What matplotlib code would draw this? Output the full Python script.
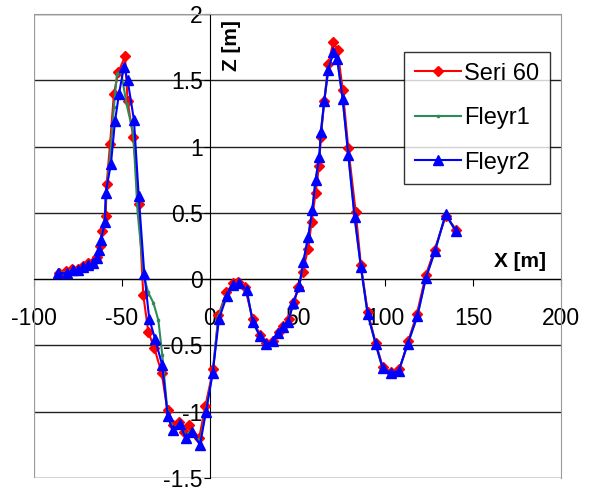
import matplotlib
matplotlib.use("Agg")
import matplotlib.pyplot as plt

plt.rcParams["font.family"] = ["Liberation Sans", "DejaVu Sans"]

# Seri 60 (red)
seri60_x = [-86, -82, -78.5, -75, -72, -69, -66.5, -64, -62.3, -61.5, -59.2, -58.6,
            -56.7, -54.5, -52, -48.2, -46.7, -43.5, -40.4, -37.8, -34.9, -31.5, -27.3,
            -24, -21, -17.5, -14.5, -11.5, -6, -2.5, 2, 5, 9.5, 13.5, 16, 20, 24.5,
            28.5, 32, 36, 39.5, 42, 45, 48, 50.5, 52.9, 56.1, 58, 60.3, 62.2, 63.3,
            65.2, 67.5, 70.4, 72.8, 75.7, 78.9, 83.1, 86.1, 90, 94.5, 98.5, 103, 108,
            113, 118, 123, 128, 134.5, 140.5]
seri60_z = [0.05, 0.06, 0.08, 0.08, 0.10, 0.12, 0.13, 0.17, 0.25, 0.36, 0.48, 0.72,
            1.02, 1.40, 1.56, 1.68, 1.34, 1.07, 0.57, -0.12, -0.40, -0.52, -0.71,
            -0.99, -1.10, -1.08, -1.15, -1.10, -1.20, -0.96, -0.68, -0.27, -0.10, -0.03,
            -0.02, -0.06, -0.30, -0.42, -0.48, -0.47, -0.40, -0.35, -0.30, -0.17, -0.06,
            0.055, 0.23, 0.43, 0.65, 0.85, 1.07, 1.34, 1.62, 1.79, 1.73, 1.43, 0.99,
            0.51, 0.105, -0.25, -0.48, -0.66, -0.70, -0.68, -0.47, -0.26, 0.03, 0.22,
            0.48, 0.37]

# Fleyr1 (green)
fleyr1_x = [-86, -81.5, -78, -75, -72, -69, -66.5, -64.5, -63, -62, -60, -59,
            -56.5, -54.5, -52.8, -50.5, -47.3, -43.5, -41, -37.5, -35, -32, -29.2,
            -27, -24, -21, -17, -13.7, -10.2, -5.5, -2, 1.7, 5, 9.5, 13.4, 16.7, 21,
            24.5, 28.6, 31.9, 35.9, 39, 41.9, 44.7, 47.6, 51, 53.3, 56.1, 58.4, 60.3,
            62.4, 63.3, 65.2, 67.5, 70.4, 72.6, 75.7, 78.9, 82.5, 86.1, 89.9, 94.5,
            98.4, 103.2, 107.7, 112.7, 118.2, 123.1, 128.2, 134.3, 140.2]
fleyr1_z = [0.05, 0.05, 0.07, 0.07, 0.09, 0.11, 0.12, 0.16, 0.22, 0.30, 0.42, 0.62,
            0.95, 1.30, 1.55, 1.57, 1.32, 1.10, 0.50, 0.03, -0.10, -0.18, -0.31,
            -0.57, -1.00, -1.12, -1.10, -1.18, -1.14, -1.23, -0.98, -0.70, -0.28,
            -0.12, -0.045, -0.03, -0.08, -0.32, -0.43, -0.49, -0.47, -0.41, -0.36,
            -0.32, -0.18, -0.05, 0.13, 0.32, 0.52, 0.75, 0.92, 1.11, 1.34, 1.58, 1.71,
            1.66, 1.36, 0.94, 0.47, 0.09, -0.26, -0.49, -0.67, -0.71, -0.69, -0.49,
            -0.28, 0.01, 0.21, 0.49, 0.36]

# Fleyr2 (blue)
fleyr2_x = [-86.2, -81.4, -77.7, -74.8, -72, -69.1, -66.6, -64.3, -62.8, -62, -59.6,
            -59.2, -56.2, -53.9, -51.6, -48.8, -46.7, -43.1, -40.4, -37.2, -34.4,
            -31.1, -27, -23.9, -21.1, -16.9, -13.7, -10.2, -5.5, -2.1, 1.7, 5.3, 9.7,
            13.4, 16.7, 21, 24.5, 28.6, 31.9, 35.9, 39, 41.9, 44.7, 47.6, 51, 53.3,
            56.1, 58.4, 60.3, 62.4, 63.3, 65.2, 67.5, 70.4, 72.6, 75.7, 78.9, 82.5,
            86.1, 89.9, 94.5, 98.4, 103.2, 107.7, 112.7, 118.2, 123.1, 128.2, 134.3,
            140.2]
fleyr2_z = [0.048, 0.043, 0.068, 0.068, 0.088, 0.106, 0.118, 0.156, 0.219, 0.294,
            0.43, 0.65, 0.87, 1.19, 1.40, 1.60, 1.50, 1.20, 0.63, 0.04, -0.30, -0.45,
            -0.65, -1.03, -1.14, -1.09, -1.20, -1.15, -1.25, -1.00, -0.71, -0.30,
            -0.13, -0.045, -0.03, -0.08, -0.32, -0.43, -0.49, -0.47, -0.41, -0.36,
            -0.32, -0.18, -0.05, 0.13, 0.32, 0.52, 0.75, 0.92, 1.11, 1.34, 1.58, 1.71,
            1.66, 1.36, 0.94, 0.47, 0.09, -0.26, -0.49, -0.67, -0.71, -0.69, -0.49,
            -0.28, 0.01, 0.21, 0.49, 0.36]

x_ticks = [-100, -50, 0, 50, 100, 150, 200]
y_ticks = [-1.5, -1, -0.5, 0, 0.5, 1, 1.5, 2]

fig = plt.figure(figsize=(5.9, 4.9), dpi=100)
ax = fig.add_axes([34 / 590, 12 / 490, 527 / 590, 464 / 490])

ax.plot(seri60_x, seri60_z, color="#ff0000", lw=1.5, marker="D", ms=5,
        label="Seri 60", zorder=3)
ax.plot(fleyr1_x, fleyr1_z, color="#2e8b57", lw=1.5, marker="s", ms=2,
        label="Fleyr1", zorder=4)
ax.plot(fleyr2_x, fleyr2_z, color="#0000ff", lw=1.5, marker="^", ms=7,
        label="Fleyr2", zorder=5)

ax.set_xlim(-100, 200)
ax.set_ylim(-1.5, 2)
ax.set_xticks(x_ticks)
ax.set_yticks(y_ticks)
ax.set_xticklabels([f"{v:g}" for v in x_ticks])
ax.set_yticklabels([f"{v:g}" for v in y_ticks])

ax.yaxis.grid(True, color="#222222", lw=1)
ax.set_axisbelow(True)

ax.spines["left"].set_position(("data", 0))
ax.spines["bottom"].set_position(("data", 0))
for s in ("left", "bottom"):
    ax.spines[s].set_color("black")
    ax.spines[s].set_zorder(2)
for s in ("top", "right"):
    ax.spines[s].set_color("#999999")
ax.axvline(-100, color="#999999", lw=1.6, zorder=1)

ax.tick_params(axis="x", direction="out", length=5, pad=15, labelsize=16.5)
ax.tick_params(axis="y", direction="out", length=4.5, pad=0.5, labelsize=16.5)

ax.text(12.7, 1.76, "Z [m]", rotation=90, ha="center", va="center",
        fontsize=15, fontweight="bold")
ax.text(176.6, 0.13, "X [m]", ha="center", va="center",
        fontsize=15, fontweight="bold")

leg = ax.legend(loc="upper left", bbox_to_anchor=(0.702, 0.918), borderaxespad=0,
                fontsize=17, frameon=True, fancybox=False, handlelength=1.95,
                labelspacing=0.95, handletextpad=0.15, borderpad=0.45)
leg.get_frame().set_edgecolor("black")
leg.get_frame().set_linewidth(1)

fig.savefig("out.png", dpi=100)
